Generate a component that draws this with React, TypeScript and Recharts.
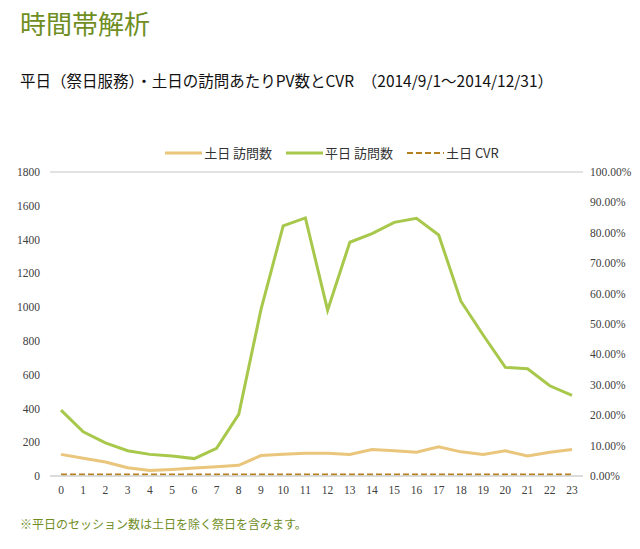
import React from "react";
import { LineChart, Line, XAxis, YAxis, CartesianGrid, Legend } from "recharts";

const hours = ["0","1","2","3","4","5","6","7","8","9","10","11","12","13","14","15","16","17","18","19","20","21","22","23"];
const weekendVisits = [128,105,83,49,33,39,47,55,63,121,129,135,135,127,157,149,141,173,143,127,149,119,141,157];
const weekdayVisits = [390,262,196,150,128,119,103,164,365,985,1481,1528,982,1384,1435,1502,1526,1427,1035,835,643,635,534,477];
const weekendCvr = [0.5,0.5,0.5,0.5,0.5,0.5,0.5,0.5,0.5,0.5,0.5,0.5,0.5,0.5,0.5,0.5,0.5,0.5,0.5,0.5,0.5,0.5,0.5,0.5];
const leftTicks = [0,200,400,600,800,1000,1200,1400,1600,1800];
const rightTicks = [0,10,20,30,40,50,60,70,80,90,100];

const data = hours.map((h, i) => ({
  hour: h,
  weekend: weekendVisits[i],
  weekday: weekdayVisits[i],
  cvr: weekendCvr[i],
}));

const TAN = "#eac57c";
const GREEN = "#a8c84c";
const BROWN = "#b5801f";
const OLIVE = "#6f8e1f";
const CJK = '"Noto Sans CJK JP", "Noto Sans", sans-serif';
const SERIF = '"Liberation Serif", "DejaVu Serif", serif';

const legendItems = [
  { label: "土日 訪問数", color: TAN, dash: undefined },
  { label: "平日 訪問数", color: GREEN, dash: undefined },
  { label: "土日 CVR", color: BROWN, dash: "6 3" },
];

const LegendContent = () => (
  <div style={{ display: "flex", justifyContent: "center", alignItems: "center", fontFamily: CJK, fontSize: 13, color: "#333" }}>
    {legendItems.map((it) => (
      <div key={it.label} style={{ display: "flex", alignItems: "center", margin: "0 7px" }}>
        <svg width={37} height={6} style={{ marginRight: 2 }}>
          <line x1={0} y1={3} x2={37} y2={3} stroke={it.color} strokeWidth={it.dash ? 2 : 3} strokeDasharray={it.dash} />
        </svg>
        <span>{it.label}</span>
      </div>
    ))}
  </div>
);

export default function App() {
  return (
    <div style={{ position: "absolute", left: 0, top: 0, width: 640, height: 549, background: "#fff", overflow: "hidden" }}>
      <div style={{ position: "absolute", left: 20, top: 5, fontFamily: CJK, fontSize: 26, color: OLIVE, lineHeight: "36px" }}>
        時間帯解析
      </div>
      <div style={{ position: "absolute", left: 20, top: 69, fontFamily: CJK, fontSize: 15.5, color: "#111", lineHeight: "22px", whiteSpace: "pre" }}>
        平日（祭日服務）・土日の訪問あたりPV数とCVR　（2014/9/1～2014/12/31）
      </div>
      <div style={{ position: "absolute", left: 0, top: 140 }}>
        <LineChart width={640} height={370} data={data} margin={{ top: 32, right: 0, left: 0, bottom: 4 }}>
          <CartesianGrid vertical={false} stroke="#d9d9d9" strokeWidth={1.5} />
          <XAxis
            dataKey="hour"
            height={30}
            padding={{ left: 11, right: 11 }}
            axisLine={{ stroke: "#d9d9d9", strokeWidth: 1.5 }}
            tickLine={false}
            tickSize={0}
            tickMargin={10}
            interval={0}
            tick={{ fill: "#404040", fontSize: 11.5, fontFamily: SERIF }}
          />
          <YAxis
            yAxisId="left"
            width={50}
            domain={[0, 1800]}
            ticks={leftTicks}
            axisLine={false}
            tickLine={false}
            tickSize={0}
            tickMargin={10}
            tick={{ fill: "#404040", fontSize: 11.5, fontFamily: SERIF }}
          />
          <YAxis
            yAxisId="right"
            orientation="right"
            width={57}
            domain={[0, 100]}
            ticks={rightTicks}
            axisLine={false}
            tickLine={false}
            tickSize={0}
            tickMargin={7}
            tickFormatter={(v: number) => v.toFixed(2) + "%"}
            tick={{ fill: "#404040", fontSize: 11.5, fontFamily: SERIF, textAnchor: "start" }}
          />
          <Legend verticalAlign="middle" wrapperStyle={{ top: 3, left: 12, width: 640 }} content={<LegendContent />} />
          <Line yAxisId="left" type="linear" dataKey="weekend" name="土日 訪問数" stroke={TAN} strokeWidth={3} dot={false} isAnimationActive={false} />
          <Line yAxisId="left" type="linear" dataKey="weekday" name="平日 訪問数" stroke={GREEN} strokeWidth={3} dot={false} isAnimationActive={false} />
          <Line yAxisId="right" type="linear" dataKey="cvr" name="土日 CVR" stroke={BROWN} strokeWidth={2} strokeDasharray="6 3" dot={false} isAnimationActive={false} />
        </LineChart>
      </div>
      <div style={{ position: "absolute", left: 20, top: 515, fontFamily: CJK, fontSize: 12, color: OLIVE, lineHeight: "18px" }}>
        ※平日のセッション数は土日を除く祭日を含みます。
      </div>
    </div>
  );
}
